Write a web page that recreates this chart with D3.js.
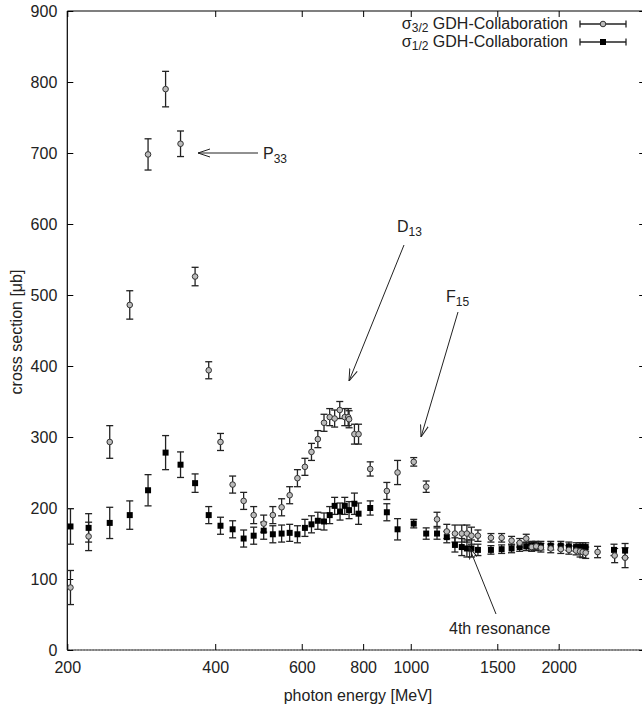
<!DOCTYPE html>
<html>
<head>
<meta charset="utf-8">
<script src="https://cdn.jsdelivr.net/npm/d3@7"></script>
<style>
  body { margin: 0; background: #fff; }
  svg { font-family: "Liberation Sans", Arial, sans-serif; }
</style>
</head>
<body>
<div id="wrap"></div>
<script>
var width = 642, height = 709;

// sigma 3/2 (open circles): energy [MeV], cross section [ub], error
var e32 = [203, 221, 244, 268, 292, 317, 340, 364, 388, 410, 434, 457, 479, 502, 524, 546, 567, 588, 609, 628,
  647, 666, 684, 700, 717, 734, 746, 749, 768, 783, 827, 894, 940, 1014, 1075, 1131, 1184, 1230, 1270, 1301,
  1329, 1370, 1456, 1531, 1604, 1666, 1718, 1762, 1800, 1840, 1927, 2020, 2098, 2170, 2211, 2238, 2270, 2400, 2600, 2730];
var v32 = [88, 160, 293, 486, 698, 790, 713, 526, 394, 293, 233, 210, 190, 178, 190, 201, 218, 242, 258, 279,
  297, 320, 328, 326, 338, 328, 328, 325, 304, 304, 255, 224, 250, 265, 230, 184, 167, 164, 164, 164,
  161, 161, 158, 158, 154, 151, 157, 145, 146, 144, 143, 142, 141, 140, 139, 138, 137, 138, 133, 130];
var s32 = [24, 20, 23, 20, 22, 25, 18, 13, 12, 12, 12, 12, 12, 12, 12, 12, 12, 12, 12, 12,
  12, 12, 12, 12, 12, 12, 12, 12, 14, 14, 10, 12, 17, 6, 8, 10, 10, 12, 12, 12,
  12, 8, 6, 6, 6, 6, 6, 6, 6, 6, 6, 6, 6, 6, 8, 8, 8, 8, 10, 14];

// sigma 1/2 (filled squares)
var e12 = [203, 221, 244, 268, 292, 317, 340, 364, 388, 410, 434, 457, 479, 502, 524, 546, 567, 588, 609, 628,
  647, 666, 684, 700, 718, 734, 749, 768, 783, 827, 894, 940, 1014, 1075, 1131, 1184, 1230, 1270, 1301, 1329,
  1370, 1456, 1531, 1604, 1666, 1718, 1762, 1796, 1840, 1927, 2020, 2098, 2170, 2211, 2238, 2270, 2592, 2730];
var v12 = [174, 172, 179, 190, 225, 278, 261, 235, 190, 175, 170, 157, 161, 168, 163, 164, 165, 163, 172, 177,
  182, 181, 190, 203, 195, 203, 197, 206, 192, 200, 194, 170, 178, 164, 164, 159, 148, 145, 143, 143,
  141, 141, 142, 143, 145, 146, 147, 147, 147, 147, 147, 146, 145, 145, 145, 145, 141, 140];
var s12 = [25, 20, 22, 20, 22, 24, 18, 13, 12, 12, 12, 12, 12, 12, 12, 12, 12, 12, 12, 12,
  12, 12, 12, 12, 12, 12, 12, 15, 15, 10, 12, 15, 6, 8, 8, 8, 10, 12, 12, 12,
  8, 6, 6, 6, 6, 6, 6, 6, 6, 6, 6, 6, 6, 6, 6, 6, 8, 10];

var xTicks = [200, 400, 600, 800, 1000, 1500, 2000];
var yTicks = [0, 100, 200, 300, 400, 500, 600, 700, 800, 900];

var x = d3.scaleLog().domain([200, 3000]).range([67.3, 645.2]);
var y = d3.scaleLinear().domain([0, 900]).range([650, 11]);

var svg = d3.select('#wrap').append('svg')
  .attr('width', width)
  .attr('height', height);

// frame
svg.append('line').attr('x1', x(200)).attr('x2', x(3000)).attr('y1', y(900)).attr('y2', y(900))
  .attr('stroke', '#000').attr('stroke-width', 1.2);
svg.append('line').attr('x1', x(200)).attr('x2', x(200)).attr('y1', y(0)).attr('y2', y(900))
  .attr('stroke', '#000').attr('stroke-width', 1.2);
svg.append('line').attr('x1', x(200)).attr('x2', x(3000)).attr('y1', y(0)).attr('y2', y(0))
  .attr('stroke', '#000').attr('stroke-width', 1.2);
svg.append('line').attr('x1', x(200)).attr('x2', x(3000)).attr('y1', y(0)).attr('y2', y(0))
  .attr('stroke', '#fff').attr('stroke-width', 0.6).attr('stroke-dasharray', '1,2');
svg.append('line').attr('x1', x(3000)).attr('x2', x(3000)).attr('y1', y(0)).attr('y2', y(900))
  .attr('stroke', '#000').attr('stroke-width', 1.2);

// axes (ticks inward, mirrored)
var xb = d3.axisBottom(x).tickValues(xTicks).tickSize(-6).tickPadding(12).tickFormat(d3.format('d'));
var yl = d3.axisLeft(y).tickValues(yTicks).tickSize(-6).tickPadding(10);
var gx = svg.append('g').attr('transform', 'translate(0,' + y(0) + ')').call(xb);
var gy = svg.append('g').attr('transform', 'translate(' + x(200) + ',0)').call(yl);
svg.append('g').attr('transform', 'translate(0,' + y(900) + ')')
  .call(d3.axisTop(x).tickValues(xTicks).tickSize(-6).tickFormat(''));
svg.append('g').attr('transform', 'translate(' + x(3000) + ',0)')
  .call(d3.axisRight(y).tickValues(yTicks).tickSize(-6).tickFormat(''));
svg.selectAll('.domain').remove();
svg.selectAll('.tick line').attr('stroke', '#000').attr('stroke-width', 1);
gx.selectAll('text').attr('font-size', 16).attr('fill', '#222')
  .attr('font-family', '"Liberation Sans", Arial, sans-serif');
gy.selectAll('text').attr('font-size', 16).attr('fill', '#222')
  .attr('font-family', '"Liberation Sans", Arial, sans-serif');

// axis titles
svg.append('text').attr('x', 358).attr('y', 701).attr('text-anchor', 'middle')
  .attr('font-size', 16).attr('fill', '#222').text('photon energy [MeV]');
svg.append('text').attr('transform', 'translate(22,332) rotate(-90)').attr('text-anchor', 'middle')
  .attr('font-size', 16).attr('fill', '#222').text('cross section [\u03bcb]');

// data
function series(es, vs, ss) {
  return es.map((e, i) => ({ e: e, v: vs[i], s: ss[i] }));
}
var d32 = series(e32, v32, s32);
var d12 = series(e12, v12, s12);

function errorBars(data) {
  var g = svg.append('g').attr('stroke', '#222').attr('stroke-width', 1.3).attr('fill', 'none');
  data.forEach(d => {
    var cx = x(d.e);
    g.append('line').attr('x1', cx).attr('x2', cx).attr('y1', y(d.v - d.s)).attr('y2', y(d.v + d.s));
    g.append('line').attr('x1', cx - 3.5).attr('x2', cx + 3.5).attr('y1', y(d.v - d.s)).attr('y2', y(d.v - d.s));
    g.append('line').attr('x1', cx - 3.5).attr('x2', cx + 3.5).attr('y1', y(d.v + d.s)).attr('y2', y(d.v + d.s));
  });
}
errorBars(d32);
errorBars(d12);

svg.append('g').selectAll('rect').data(d12).join('rect')
  .attr('x', d => x(d.e) - 3).attr('y', d => y(d.v) - 3)
  .attr('width', 6).attr('height', 6).attr('fill', '#000');

svg.append('g').selectAll('circle').data(d32).join('circle')
  .attr('cx', d => x(d.e)).attr('cy', d => y(d.v)).attr('r', 2.8)
  .attr('fill', '#bbb').attr('stroke', '#333').attr('stroke-width', 1);

// legend
var leg = svg.append('g').attr('font-size', 16).attr('fill', '#222');
function legendRow(yy, sub, square) {
  var t = leg.append('text').attr('x', 568).attr('y', yy + 5).attr('text-anchor', 'end');
  t.append('tspan').text('\u03c3');
  t.append('tspan').attr('font-size', 12).attr('dy', 3).text(sub);
  t.append('tspan').attr('dy', -3).text(' GDH-Collaboration');
  leg.append('line').attr('x1', 580).attr('x2', 626).attr('y1', yy).attr('y2', yy).attr('stroke', '#222').attr('stroke-width', 1.3);
  leg.append('line').attr('x1', 580).attr('x2', 580).attr('y1', yy - 3.5).attr('y2', yy + 3.5).attr('stroke', '#222').attr('stroke-width', 1.3);
  leg.append('line').attr('x1', 626).attr('x2', 626).attr('y1', yy - 3.5).attr('y2', yy + 3.5).attr('stroke', '#222').attr('stroke-width', 1.3);
  if (square) {
    leg.append('rect').attr('x', 600).attr('y', yy - 3).attr('width', 6).attr('height', 6).attr('fill', '#000');
  } else {
    leg.append('circle').attr('cx', 603).attr('cy', yy).attr('r', 2.8).attr('fill', '#bbb').attr('stroke', '#333');
  }
}
legendRow(24, '3/2', false);
legendRow(42, '1/2', true);

// annotations
var defs = svg.append('defs');
defs.append('marker').attr('id', 'arr').attr('viewBox', '0 -5 12 10').attr('refX', 12).attr('refY', 0)
  .attr('markerWidth', 12).attr('markerHeight', 10).attr('markerUnits', 'userSpaceOnUse').attr('orient', 'auto')
  .append('path').attr('d', 'M0,-4L12,0L0,4').attr('fill', 'none').attr('stroke', '#222').attr('stroke-width', 1);

function arrow(x1, y1, x2, y2) {
  svg.append('line').attr('x1', x1).attr('y1', y1).attr('x2', x2).attr('y2', y2)
    .attr('stroke', '#222').attr('stroke-width', 1).attr('marker-end', 'url(#arr)');
}
function label(xx, yy, main, sub) {
  var t = svg.append('text').attr('x', xx).attr('y', yy).attr('font-size', 16).attr('fill', '#222');
  t.append('tspan').text(main);
  if (sub) t.append('tspan').attr('font-size', 12).attr('dy', 4).text(sub);
}
arrow(258, 153, 198, 153);
label(263, 159, 'P', '33');
arrow(404, 245, 349, 381);
label(397, 232, 'D', '13');
arrow(458, 312, 421, 437);
label(446, 302, 'F', '15');
arrow(496, 614, 469, 547);
label(449, 634, '4th resonance');
</script>
</body>
</html>
